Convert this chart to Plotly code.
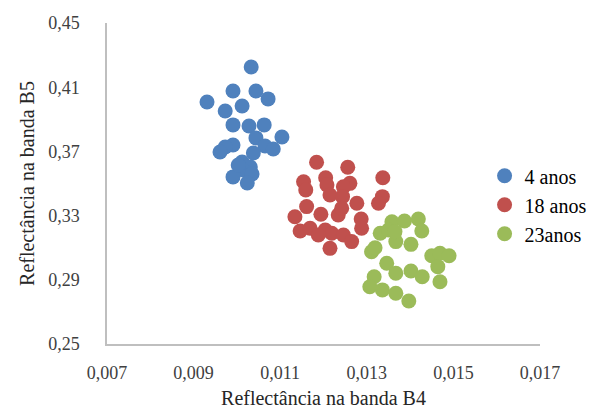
import plotly.graph_objects as go

series_names = ["4 anos", "18 anos", "23anos"]
colors = ["#4F81BD", "#C0504D", "#9BBB59"]

b4_4anos = [0.01033, 0.00991, 0.01044, 0.01072, 0.00931, 0.01012, 0.00973, 0.00991,
            0.01028, 0.01063, 0.01044, 0.01104, 0.00991, 0.00973, 0.00961, 0.01065,
            0.01084, 0.01038, 0.01012, 0.01031, 0.01015, 0.00991, 0.01035, 0.01024, 0.01003]
b5_4anos = [0.4226, 0.4076, 0.4076, 0.4027, 0.4008, 0.3983, 0.3952, 0.3865,
            0.3858, 0.3865, 0.3784, 0.3790, 0.3740, 0.3727, 0.3696, 0.3734,
            0.3715, 0.3690, 0.3634, 0.3603, 0.3584, 0.3541, 0.3559, 0.3503, 0.3615]

b4_18anos = [0.01184, 0.01256, 0.01337, 0.01154, 0.01205, 0.01159, 0.01208, 0.01261,
             0.01246, 0.01215, 0.01244, 0.01277, 0.01336, 0.01327, 0.01161, 0.01194,
             0.01134, 0.01234, 0.01287, 0.01288, 0.01146, 0.01169, 0.01204, 0.01219,
             0.01246, 0.01265, 0.01215, 0.01188, 0.01242]
b5_18anos = [0.3632, 0.3601, 0.3536, 0.3511, 0.3536, 0.3460, 0.3491, 0.3501,
             0.3480, 0.3428, 0.3418, 0.3377, 0.3418, 0.3377, 0.3356, 0.3308,
             0.3293, 0.3304, 0.3279, 0.3221, 0.3204, 0.3221, 0.3210, 0.3190,
             0.3179, 0.3138, 0.3096, 0.3179, 0.3346]

b4_23anos = [0.01358, 0.01387, 0.01419, 0.01331, 0.01350, 0.01427, 0.01367, 0.01402,
             0.01311, 0.01319, 0.01450, 0.01469, 0.01490, 0.01464, 0.01346, 0.01367,
             0.01402, 0.01428, 0.01469, 0.01317, 0.01307, 0.01336, 0.01367, 0.01397, 0.01365]
b5_23anos = [0.3262, 0.3266, 0.3279, 0.3190, 0.3210, 0.3204, 0.3138, 0.3121,
             0.3075, 0.3100, 0.3050, 0.3065, 0.3050, 0.2982, 0.3003, 0.2941,
             0.2955, 0.2919, 0.2888, 0.2919, 0.2857, 0.2837, 0.2816, 0.2768, 0.3200]

xs = [b4_4anos, b4_18anos, b4_23anos]
ys = [b5_4anos, b5_18anos, b5_23anos]

FONT = "Liberation Serif"

fig = go.Figure()
for name, c, x, y in zip(series_names, colors, xs, ys):
    fig.add_trace(go.Scatter(x=x, y=y, mode="markers", name=name,
                             marker=dict(color=c, size=15, line=dict(width=0))))

fig.update_layout(
    width=598, height=404,
    margin=dict(l=99, r=66, t=15, b=68, autoexpand=False),
    paper_bgcolor="white", plot_bgcolor="white",
    separators=",.",
    font=dict(family=FONT, size=18, color="#404040"),
    showlegend=True,
    legend=dict(x=0.872, y=0.585, xanchor="left", yanchor="top",
                font=dict(family=FONT, size=20, color="#000000"),
                itemwidth=30, tracegroupgap=0, bgcolor="rgba(0,0,0,0)"),
    xaxis=dict(range=[0.007, 0.017], dtick=0.002, tick0=0.007, tickformat=".3f",
               showgrid=False, zeroline=False, showline=True, linecolor="#BFBFBF",
               linewidth=1.5, ticks="", ticklen=0, ticklabelstandoff=12,
               automargin=False,
               tickfont=dict(family=FONT, size=18, color="#404040"),
               title=dict(text="Reflectância na banda B4", standoff=9,
                          font=dict(family=FONT, size=20, color="#262626"))),
    yaxis=dict(range=[0.25, 0.45], dtick=0.04, tick0=0.25, tickformat=".2f",
               showgrid=False, zeroline=False, showline=True, linecolor="#BFBFBF",
               linewidth=1.5, ticks="", ticklen=0, ticklabelstandoff=22,
               automargin=False,
               tickfont=dict(family=FONT, size=18, color="#404040"),
               title=dict(text="Reflectância na banda B5", standoff=8,
                          font=dict(family=FONT, size=20, color="#262626"))),
)

fig.write_html("out.html")
